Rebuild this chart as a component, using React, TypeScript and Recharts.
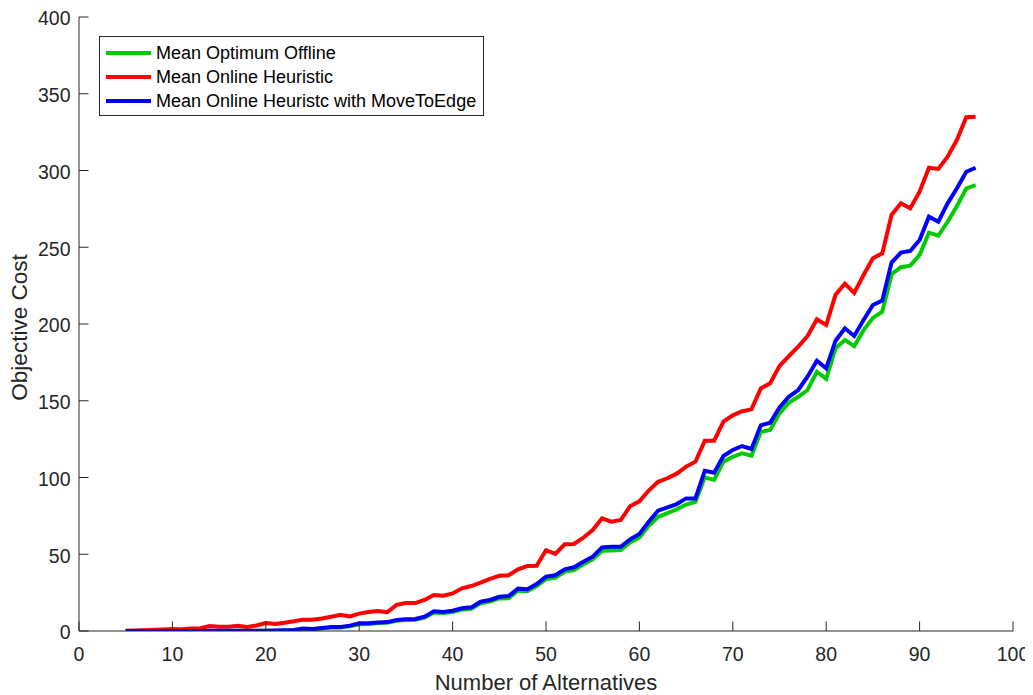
import { LineChart, Line, XAxis, YAxis, Legend } from 'recharts';

const alternatives = [
  5, 6, 7, 8, 9, 10, 11, 12, 13, 14, 15, 16, 17, 18, 19, 20, 21, 22, 23, 24,
  25, 26, 27, 28, 29, 30, 31, 32, 33, 34, 35, 36, 37, 38, 39, 40, 41, 42, 43, 44,
  45, 46, 47, 48, 49, 50, 51, 52, 53, 54, 55, 56, 57, 58, 59, 60, 61, 62, 63, 64,
  65, 66, 67, 68, 69, 70, 71, 72, 73, 74, 75, 76, 77, 78, 79, 80, 81, 82, 83, 84,
  85, 86, 87, 88, 89, 90, 91, 92, 93, 94, 95, 96,
];

const optimumOffline = [
  0, 0, 0, 0, 0, 0, 0, 0, 0, 0.1, 0, 0, 0.1, 0.1, 0.1, 0.1, 0.2, 0.3, 0.4, 1.3,
  1.0, 1.6, 2.2, 2.2, 3.0, 4.4, 4.6, 5.2, 5.3, 6.7, 7.1, 7.4, 8.8, 12.1, 11.7, 12.4, 13.9, 14.5, 18.1, 19.2,
  21.2, 21.4, 26.3, 25.9, 29.3, 33.8, 34.7, 38.7, 39.7, 43.5, 46.7, 52.3, 52.5, 52.7, 57.7, 60.9, 68.6, 74.3, 76.8, 79.3,
  82.4, 84.2, 100.1, 98.4, 110.3, 113.5, 115.8, 114.2, 129.8, 130.9, 141.8, 148.7, 152.6, 157, 168.9, 164.2, 184.2, 189.6, 185.5, 196,
  204, 208, 232.4, 237, 238, 245, 259.5, 257.5, 266.6, 276.9, 288.4, 290.5,
];

const onlineHeuristic = [
  0.2, 0.3, 0.5, 0.8, 1.0, 1.3, 1.2, 1.6, 1.8, 3.2, 2.8, 2.8, 3.4, 2.6, 3.6, 5.2, 4.6, 5.4, 6.3, 7.4,
  7.3, 8.2, 9.3, 10.6, 9.5, 11.3, 12.4, 13.0, 12.2, 17.0, 18.2, 18.2, 20.2, 23.5, 23.0, 24.5, 27.8, 29.3, 31.5, 34.0,
  36.0, 36.3, 40.2, 42.3, 42.5, 52.6, 50.2, 56.5, 56.7, 60.8, 65.8, 73.4, 71.2, 72.3, 81.2, 84.5, 91.5, 97.2, 99.5, 102.5,
  107, 110.3, 124, 124, 136.4, 140.5, 143.2, 144.4, 158, 161.4, 172.6, 179, 185.2, 192.2, 203, 199.3, 219, 226.3, 220.2, 231.9,
  242.8, 246, 271, 278.6, 275.4, 286.2, 301.8, 301, 309, 320, 334.7, 335,
];

const onlineMoveToEdge = [
  0, 0, 0, 0, 0, 0, 0, 0, 0, 0.2, 0.1, 0.1, 0.2, 0.2, 0.2, 0.2, 0.3, 0.5, 0.6, 1.7,
  1.3, 2.0, 2.6, 2.6, 3.5, 5.0, 5.0, 5.6, 5.8, 7.1, 7.6, 7.8, 9.3, 12.8, 12.4, 13.2, 14.8, 15.4, 19.1, 20.2,
  22.3, 22.8, 27.6, 27.2, 30.6, 35.4, 36.3, 40.2, 41.5, 45.1, 48.4, 54.5, 54.9, 54.9, 59.7, 63.2, 71.2, 78.4, 80.6, 82.7,
  86.4, 86.4, 104.4, 103.1, 114, 117.9, 120.5, 118.6, 134, 135.7, 145.7, 152.6, 157, 165.7, 176.1, 171.1, 189.1, 197.2, 192.2, 202.6,
  212.4, 215.2, 240, 246.5, 247.6, 254.7, 269.9, 266.6, 278.6, 288.4, 299.2, 301.8,
];

const seriesNames = [
  'Mean Optimum Offline',
  'Mean Online Heuristic',
  'Mean Online Heuristc with MoveToEdge',
];

const xTicks = [0, 10, 20, 30, 40, 50, 60, 70, 80, 90, 100];
const yTicks = [0, 50, 100, 150, 200, 250, 300, 350, 400];

const data = alternatives.map((n, i) => ({
  n,
  offline: optimumOffline[i],
  online: onlineHeuristic[i],
  moveToEdge: onlineMoveToEdge[i],
}));

const FONT = '"Liberation Sans", Arial, Helvetica, sans-serif';
const AXIS = '#262626';
const TICK_LEN = 9.5;

const BottomTick = ({ x, y, payload }: any) => (
  <g>
    <line x1={x} x2={x} y1={y} y2={y - TICK_LEN} stroke={AXIS} strokeWidth={1} />
    <text x={x} y={y + 29.5} textAnchor="middle" fill={AXIS} fontSize={19.5} fontFamily={FONT}>
      {payload.value}
    </text>
  </g>
);

const TopTick = ({ x, y }: any) => (
  <line x1={x} x2={x} y1={y} y2={y + TICK_LEN} stroke={AXIS} strokeWidth={1} />
);

const LeftTick = ({ x, y, payload }: any) => (
  <g>
    <line x1={x} x2={x + TICK_LEN} y1={y} y2={y} stroke={AXIS} strokeWidth={1} />
    <text x={x - 8.5} y={y + 8.3} textAnchor="end" fill={AXIS} fontSize={19.5} fontFamily={FONT}>
      {payload.value}
    </text>
  </g>
);

const RightTick = ({ x, y }: any) => (
  <line x1={x} x2={x - TICK_LEN} y1={y} y2={y} stroke={AXIS} strokeWidth={1} />
);

const renderLegend = ({ payload }: any) => {
  const items = [...(payload || [])].sort(
    (a: any, b: any) => seriesNames.indexOf(a.value) - seriesNames.indexOf(b.value)
  );
  return (
    <div
      style={{
        border: `1px solid ${AXIS}`,
        background: '#fff',
        width: 383,
        height: 78,
        fontFamily: FONT,
        fontSize: 18,
        color: '#000',
      }}
    >
      <div style={{ paddingTop: 4 }}>
        {items.map((entry: any) => (
          <div key={entry.value} style={{ display: 'flex', alignItems: 'center', height: 24 }}>
            <span
              style={{
                display: 'inline-block',
                width: 45,
                height: 4,
                background: entry.color,
                marginLeft: 6,
                marginRight: 5,
              }}
            />
            <span style={{ whiteSpace: 'nowrap' }}>{entry.value}</span>
          </div>
        ))}
      </div>
    </div>
  );
};

export default function App() {
  return (
    <div style={{ width: 1025, height: 687, position: 'relative' }}>
      <LineChart width={1025} height={687} data={data} margin={{ top: 9, right: 20, bottom: 14, left: 11 }}>
        <XAxis
          xAxisId="bottom"
          dataKey="n"
          type="number"
          domain={[0, 100]}
          ticks={xTicks}
          allowDataOverflow
          height={50}
          tickSize={0}
          tickMargin={0}
          tickLine={false}
          axisLine={{ stroke: AXIS, strokeWidth: 1 }}
          tick={<BottomTick />}
          interval={0}
          label={{
            content: ({ viewBox }: any) => (
              <text
                x={viewBox.x + viewBox.width / 2}
                y={viewBox.y + 59}
                textAnchor="middle"
                fill={AXIS}
                fontSize={22}
                fontFamily={FONT}
              >
                Number of Alternatives
              </text>
            ),
          }}
        />
        <XAxis
          xAxisId="top"
          orientation="top"
          dataKey="n"
          type="number"
          domain={[0, 100]}
          ticks={xTicks}
          allowDataOverflow
          height={0}
          tickSize={0}
          tickMargin={0}
          tickLine={false}
          axisLine={{ stroke: AXIS, strokeWidth: 1 }}
          tick={<TopTick />}
          interval={0}
        />
        <YAxis
          yAxisId="left"
          type="number"
          domain={[0, 400]}
          ticks={yTicks}
          allowDataOverflow
          width={60}
          tickSize={0}
          tickMargin={0}
          tickLine={false}
          axisLine={{ stroke: AXIS, strokeWidth: 1 }}
          tick={<LeftTick />}
          interval={0}
          label={{
            content: ({ viewBox }: any) => {
              const cx = viewBox.x + 8.3;
              const cy = viewBox.y + viewBox.height / 2 + 3.5;
              return (
                <text
                  x={cx}
                  y={cy}
                  transform={`rotate(-90, ${cx}, ${cy})`}
                  textAnchor="middle"
                  fill={AXIS}
                  fontSize={22.5}
                  fontFamily={FONT}
                >
                  Objective Cost
                </text>
              );
            },
          }}
        />
        <YAxis
          yAxisId="right"
          orientation="right"
          type="number"
          domain={[0, 400]}
          ticks={yTicks}
          allowDataOverflow
          width={0}
          tickSize={0}
          tickMargin={0}
          tickLine={false}
          axisLine={{ stroke: AXIS, strokeWidth: 1 }}
          tick={<RightTick />}
          interval={0}
        />
        <Legend
          layout="vertical"
          align="center"
          verticalAlign="middle"
          content={renderLegend}
          wrapperStyle={{ left: 91, top: 28, width: 'auto' }}
        />
        <Line
          xAxisId="bottom"
          yAxisId="left"
          type="linear"
          dataKey="offline"
          name={seriesNames[0]}
          stroke="#00cc00"
          strokeWidth={4}
          dot={false}
          isAnimationActive={false}
        />
        <Line
          xAxisId="bottom"
          yAxisId="left"
          type="linear"
          dataKey="online"
          name={seriesNames[1]}
          stroke="#ff0000"
          strokeWidth={4}
          dot={false}
          isAnimationActive={false}
        />
        <Line
          xAxisId="bottom"
          yAxisId="left"
          type="linear"
          dataKey="moveToEdge"
          name={seriesNames[2]}
          stroke="#0000ff"
          strokeWidth={4}
          dot={false}
          isAnimationActive={false}
        />
      </LineChart>
    </div>
  );
}
